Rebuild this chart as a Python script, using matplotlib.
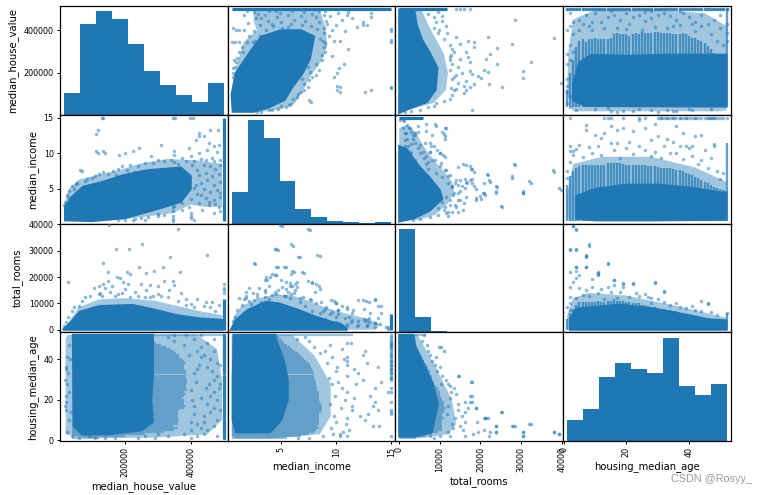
import numpy as np
import matplotlib
matplotlib.use('Agg')
import matplotlib.pyplot as plt

names = ['median_house_value', 'median_income', 'total_rooms', 'housing_median_age']

# data range of each column, used for hist bins and the 5% padded limits
mins = [14999, 0.4999, 2, 1]
maxs = [500001, 15.0001, 39320, 52]

ticks = [[200000, 400000], [5, 10, 15], [0, 10000, 20000, 30000, 40000], [0, 20, 40]]

# histogram counts (diagonal)
value_hist = [877, 3590, 4099, 3785, 2800, 1742, 1192, 799, 524, 1270]
income_hist = [2270, 7436, 6145, 3060, 1050, 480, 190, 120, 30, 100]
rooms_hist = [17700, 2600, 240, 60, 25, 6, 3, 2, 1, 3]
age_hist = [725, 1105, 2210, 2695, 2485, 2350, 3590, 1900, 1590, 1970]

ages = [1, 2, 3, 4, 5, 6, 7, 8, 9, 10, 11, 12, 13, 14, 15, 16, 17, 18, 19, 20, 21, 22, 23, 24, 25, 26,
        27, 28, 29, 30, 31, 32, 33, 34, 35, 36, 37, 38, 39, 40, 41, 42, 43, 44, 45, 46, 47, 48, 49, 50, 51, 52]

# upper end of the dense vertical stripe for each age
age_value_top = [120, 200, 260, 320, 350, 360, 345, 360, 360, 365, 360, 360, 360, 360, 365, 380, 385, 380, 380, 380,
                 375, 380, 385, 380, 390, 385, 385, 385, 390, 390, 385, 385, 385, 385, 380, 380, 380, 385, 380, 375,
                 365, 365, 355, 350, 340, 325, 310, 295, 285, 275, 265, 500]
age_income_top = [5.5, 6.8, 7.5, 8, 8.2, 8.4, 8.3, 8.4, 8.4, 8.4, 8.4, 8.4, 8.4, 8.6, 8.7, 8.7, 8.7, 8.6, 8.5, 8.4,
                  8.4, 8.4, 8.4, 8.4, 8.3, 8.3, 8.2, 8.2, 8.2, 8.1, 8, 8, 8, 7.9, 7.8, 7.7, 7.6, 7.5, 7.3, 7.1,
                  6.9, 6.7, 6.5, 6.3, 6, 5.8, 5.5, 5.3, 5.2, 5, 4.8, 11.5]
age_rooms_top = [4200, 6500, 8000, 9500, 10500, 10500, 10500, 10500, 10500, 10500, 11000, 10500, 10500, 11000, 11000,
                 11500, 11000, 11000, 11000, 10500, 10500, 10000, 10000, 10000, 9500, 9500, 9000, 8500, 8500, 8000,
                 8000, 8000, 7500, 7500, 7000, 7000, 6500, 6000, 6000, 5500, 5500, 5200, 5000, 4800, 4500, 4300,
                 4000, 3800, 3600, 3500, 3400, 6500]

# solid part of each cloud (value in thousands of dollars)
value_income_core = [(18, 0.6), (18, 2.5), (37, 3.8), (73, 5.3), (133, 6), (194, 6.9), (264, 7.6), (370, 8),
                     (400, 6.8), (400, 5), (370, 3.2), (300, 2.2), (200, 0.9), (100, 0.5)]
value_rooms_core = [(12, 0), (37, 3000), (63, 6800), (123, 9000), (224, 9400), (295, 7500), (355, 5600), (426, 4300),
                    (497, 3700), (497, 0)]
value_age_core = [(42, 52), (285, 52), (285, 32), (280, 20), (285, 9), (250, 5), (150, 3), (70, 3), (45, 7)]
income_rooms_core = [(0.44, 0), (0.89, 3670), (1.95, 7470), (3.6, 10600), (4.8, 10000), (6.6, 7470), (8.1, 5000),
                     (9.6, 3000), (10.5, 2000), (11, 0)]
income_age_core = [(0.9, 4), (4.0, 4), (5, 10), (5.6, 20), (5.6, 30), (5.2, 40), (4.5, 50), (4.5, 52), (0.7, 52),
                   (0.6, 30), (0.6, 10)]
rooms_age_core = [(0, 2), (4000, 2), (8000, 4), (9500, 18), (8200, 28), (6000, 38), (4000, 46), (3500, 52), (0, 52)]

# wider mottled part around the solid cloud
value_income_halo = [(17, 1), (17, 3), (30, 5), (60, 6.3), (120, 7), (180, 7.6), (250, 8.6), (330, 9.2), (420, 9),
                     (495, 8.5), (495, 2.5), (440, 2.5), (400, 2.8), (345, 1.6), (260, 1.1), (180, 0.7), (100, 0.5),
                     (40, 0.5)]
value_rooms_halo = [(15, 0), (35, 4000), (60, 8500), (120, 11500), (200, 12000), (290, 11000), (360, 9000),
                    (430, 7000), (497, 5500), (497, 0)]
value_age_halo = [(20, 3), (20, 50), (25, 52), (420, 52), (480, 45), (495, 30), (495, 10), (450, 3), (300, 1.5),
                  (100, 1)]
income_rooms_halo = [(0.5, 0), (0.7, 5000), (1.4, 9000), (3, 12000), (4.5, 13500), (6, 13000), (7.5, 11000),
                     (9, 8500), (11, 6000), (13, 4000), (14, 2000), (13.5, 0)]
income_age_halo = [(0.5, 2), (0.5, 52), (6, 52), (8, 42), (9.5, 28), (9.5, 12), (8.5, 3), (4, 1), (1, 1)]
rooms_age_halo = [(0, 1), (0, 52), (4500, 52), (6500, 45), (9000, 36), (11000, 28), (13000, 20), (14000, 8),
                  (12000, 3), (5000, 1)]

# single points
value_income_pts = [
    (18, 3.2), (16, 2.8), (24, 4.2), (30, 4.7), (27, 3.9), (40, 5.4), (65, 7.7), (50, 5.7), (44, 5.0),
    (55, 5.9), (85, 6.4), (100, 6.5), (80, 6.1), (110, 6.8), (120, 7.1), (135, 7.4), (150, 7.1), (165, 7.5), (180, 7.8),
    (190, 8.2), (172, 6.9), (205, 7.6), (215, 8.4), (240, 8.2), (230, 7.4), (260, 8.7), (285, 8.7), (300, 9.0),
    (320, 8.9), (340, 9.0), (350, 8.8), (280, 9.6), (111, 12.65), (111, 10.35), (135, 10.35), (130, 15), (347, 15),
    (398, 15), (182, 9.8), (199, 10.1), (224, 10.25), (244, 10.7), (310, 11.1), (348, 10.35), (350, 9.8), (426, 12.8),
    (460, 13.2), (482, 13.2), (416, 11.9), (456, 11.4), (440, 12.4), (395, 10.8), (400, 9.6), (425, 10), (450, 10.5),
    (470, 11), (480, 10.2), (430, 9.2), (465, 9.4), (490, 9.0), (485, 11.1), (375, 9.3), (405, 8.3), (420, 7.7),
    (440, 8.4), (460, 8.2), (475, 7.8), (490, 8.4), (425, 6.9), (445, 7.2), (465, 6.8), (485, 7.1), (430, 5.9),
    (450, 6.2), (470, 5.6), (490, 6.0), (410, 5.1), (440, 5.0), (460, 4.6), (480, 4.9), (490, 3.9), (420, 4.3),
    (445, 3.8), (470, 3.5), (400, 3.6), (425, 3.1), (455, 2.7), (485, 2.5), (375, 3.1), (395, 2.5), (435, 2.0),
    (470, 1.6), (350, 2.6), (375, 2.1), (345, 1.2), (345, 0.8), (347, 1.9), (347, 2.4), (300, 1.5), (270, 1.0),
    (250, 0.9), (230, 0.8), (200, 0.6), (180, 0.6), (260, 0.7), (225, 0.6),
    (320, 1.4), (400, 1.2), (401, 0.9), (402, 1.6), (410, 0.6), (300, 1.2), (347, 0.5), (134, 15),
    (406, 15), (352, 15), (118, 13.2), (140, 10.1), (118, 10.1), (425, 12.4), (71, 7.5), (410, 8.9), (445, 9.1),
    (470, 8.9), (385, 8.9), (360, 8.5), (430, 4.2), (415, 5.6), (455, 3.2), (490, 1.9), (490, 4.5), (475, 2.9)]
value_rooms_pts = [
    (27, 18000), (151, 39800), (362, 38100), (252, 32400), (174, 30600), (211, 30600), (337, 27700), (448, 28500),
    (133, 25400), (243, 24000), (317, 24000), (366, 21800), (288, 22300), (148, 22000), (265, 21400), (205, 21800),
    (215, 21000), (175, 20200), (185, 19500), (150, 18500), (135, 17500), (120, 16500), (105, 16000), (140, 16000),
    (160, 16500), (195, 18000), (210, 17500), (250, 17500), (275, 17000), (300, 16500), (320, 18500), (345, 18500),
    (350, 17000), (265, 15000), (230, 14500), (200, 15500), (240, 13000), (300, 13500), (335, 15000), (370, 14000),
    (385, 11800), (420, 11500), (445, 10500), (400, 9800), (360, 11000), (330, 12500), (285, 12800), (260, 12500),
    (95, 13000), (80, 12500), (70, 11000), (60, 9000), (45, 8500), (38, 7000), (28, 5000), (20, 2800), (15, 1500),
    (170, 13000), (130, 12800), (180, 13500), (440, 9000), (460, 8500), (475, 7000), (385, 9500), (410, 8500),
    (155, 14500), (125, 14000), (215, 12500), (275, 12500), (310, 13000), (485, 9500), (465, 10500), (120, 13500),
    (190, 14000)]
value_age_pts = [
    (170, 1), (140, 1), (110, 1), (60, 1), (90, 2), (40, 2), (25, 4), (30, 10), (22, 15), (20, 22), (25, 28), (22, 35),
    (25, 41), (30, 47), (18, 17), (22, 19), (28, 33), (20, 36), (18, 30), (30, 24), (32, 40), (35, 14),
    (480, 2), (440, 3), (420, 2), (400, 1), (380, 3), (330, 2), (290, 1), (260, 2), (240, 1), (300, 3), (450, 5),
    (430, 6), (470, 7), (420, 8), (480, 10), (440, 12), (460, 14), (470, 16), (450, 18), (480, 20), (460, 22),
    (470, 24), (485, 26), (455, 28), (470, 30), (480, 32), (465, 34), (450, 36), (480, 38), (460, 40), (440, 42),
    (470, 44), (430, 46), (450, 48), (410, 50), (380, 47), (350, 49), (330, 51), (420, 44), (430, 41), (425, 37),
    (410, 33), (415, 29), (400, 25), (430, 21), (410, 17), (410, 13), (400, 9), (400, 5), (445, 26), (420, 35),
    (395, 42), (490, 15), (490, 28), (490, 37), (440, 9), (405, 20), (470, 50), (430, 52), (385, 52), (350, 52)]
income_rooms_pts = [
    (4.9, 39800), (7.4, 38100), (5.9, 32400), (4.45, 30600), (4.5, 30500), (6.5, 27700), (8.3, 28500), (2.5, 25400),
    (4.5, 23900), (5.3, 24000), (6, 22400), (6.9, 21800), (4.2, 21200), (4.5, 20800), (4.0, 20000), (3.5, 19000),
    (5.0, 18800), (5.8, 17800), (6.4, 18000), (7.4, 18500), (7.8, 18000), (8.4, 16500), (6.0, 16500), (5.4, 15500),
    (3.0, 16000), (3.5, 15000), (2.4, 14000), (1.8, 13000), (1.6, 11500), (1.4, 9500), (1.0, 7500), (0.8, 5000),
    (0.6, 3500), (2.8, 12500), (4.5, 13500), (5.3, 13000), (6.2, 14000), (7, 12500), (7.6, 11500), (8.2, 10000),
    (9.5, 11200), (10, 10000), (10.5, 9200), (11, 8500), (11.5, 7500), (12, 11300), (12.7, 11000), (13.5, 11500),
    (13.8, 9000), (12.5, 8000), (9, 8000), (9.4, 6000), (10, 5000), (10.8, 4500), (11.3, 3000), (12, 3500),
    (12.5, 4000), (13, 3000), (13.5, 2500), (14, 2000), (14.5, 1200), (11, 1500), (9.8, 1000), (12, 1800), (8.5, 6500),
    (7.8, 7000), (9, 4000), (10, 3000), (13, 4500), (12.8, 1500), (1.2, 12000), (2.1, 11000), (5.8, 12000),
    (6.7, 10500), (7.2, 9000), (8.8, 7000), (10.2, 7500), (3.9, 16500), (4.7, 15000), (5.6, 14500),
    (8.5, 28200), (6.75, 27700), (6.1, 32000), (4.7, 30400), (7.6, 37900), (5.1, 39300), (2.6, 25000),
    (7.1, 21500), (5.9, 21000), (6.2, 22100), (5.4, 23800), (4.7, 23800), (4.4, 20700), (3.6, 20100), (3.7, 18800),
    (8.2, 17500), (7.8, 17700), (8.1, 14500), (8.5, 15600), (6.3, 17400), (6.4, 16200), (6.3, 15000), (5.9, 13700),
    (5.8, 16600), (5.4, 18300), (5.1, 16200), (4.4, 14500), (5.4, 12900), (6.75, 12100), (7.7, 11200), (8.6, 10400),
    (9.1, 8800), (10.2, 7500), (11.4, 6400), (13.5, 11200), (12.4, 11200), (13, 10600), (14.1, 8900), (14.1, 6500),
    (13.1, 6500), (11, 7900), (10, 10000), (9.8, 10800), (13.8, 4600), (12.8, 3800), (13.5, 2560), (13.5, 900),
    (14.7, 100), (14.7, 900), (12.8, 1700), (11.9, 1300), (12.6, 3400), (11, 2100), (10.7, 1300), (10.2, 2600),
    (10.2, 1700), (11.4, 3800), (11.2, 5000), (10.2, 5900), (9.6, 6700), (3.5, 14500), (2.1, 15800), (1.8, 12100),
    (1.8, 14500), (2.3, 9600), (2.5, 11200), (3.5, 12500), (4.2, 13300), (3.9, 11600), (2.8, 13700), (3.2, 10600)]
income_age_pts = [
    (13.9, 7), (13.3, 7), (12.6, 10), (13.8, 15), (13.3, 17), (13.5, 19), (14.7, 24), (13.5, 26), (14.1, 29), (13.8, 36),
    (12.8, 38), (12.4, 42), (12.6, 44), (11.3, 48), (11, 2), (11.2, 5), (10, 9), (11, 11), (11.4, 15), (11.4, 17),
    (11.6, 21), (11, 24), (10.5, 26), (12.4, 30), (11, 32), (11.6, 35), (11, 37), (11, 39), (11, 41), (10.5, 45),
    (11, 48), (10.3, 2), (10.3, 3), (15, 2), (15, 13), (15, 14), (15, 15), (15, 19), (15, 24), (15, 26), (15, 31),
    (15, 33), (15, 35), (15, 37), (15, 39), (15, 42), (15, 46), (15, 47), (15, 48), (9.5, 6), (9.8, 12), (9.4, 18),
    (9.9, 22), (9.6, 28), (9.3, 31), (10, 34), (9.2, 38), (9.6, 41), (8.5, 43), (8, 46), (7.5, 49), (9, 44), (10.4, 16),
    (10.8, 20), (10.2, 29), (10.1, 36), (9.7, 3), (8.8, 2), (7.5, 1), (6.5, 1), (12.2, 12), (11.8, 28), (12, 33),
    (10.7, 40), (7.2, 51), (6.4, 50), (9.4, 47), (13.1, 22), (12.9, 13), (10.9, 8), (10.6, 4)]
rooms_age_pts = [
    (9900, 46), (14450, 32), (17600, 29), (25000, 14), (32000, 8), (27900, 7), (30400, 4), (30400, 2), (38000, 4),
    (39300, 3), (23900, 7), (23900, 4), (21400, 11), (20800, 11), (19000, 16), (17500, 22), (17500, 19), (16200, 19),
    (12100, 28), (39400, 3), (38100, 4), (32400, 8), (30600, 2), (30600, 4), (28400, 7), (27700, 7), (25300, 14),
    (22000, 2), (23900, 4), (22400, 4), (23900, 7), (21800, 11), (21100, 11), (18200, 3), (19500, 4), (20800, 5),
    (19100, 9), (18900, 16), (17900, 19), (17900, 22), (18000, 29), (14800, 32), (10300, 46), (17000, 16), (16300, 14),
    (14400, 15), (16300, 9), (12500, 2), (16300, 2), (15700, 5), (13200, 6), (13800, 11), (14400, 18), (12500, 21),
    (12500, 27), (10300, 28), (9400, 34), (10600, 32), (8100, 39), (7200, 44), (6200, 52), (11000, 44), (9000, 41),
    (8700, 37), (10000, 36), (12800, 24), (15500, 12), (13000, 8), (11800, 13), (12000, 17), (14000, 23), (13600, 26),
    (11500, 30), (6800, 47), (5600, 49), (7500, 42), (12000, 4), (10000, 2), (8500, 1), (7500, 2), (15000, 7)]

# pile-ups at the capped values: continuous run first, loose points after
value_cap_income = [0.5, 15]
value_cap_rooms = [0, 11800]
value_cap_rooms_loose = [14000, 15000, 16000, 17500]
income_cap_rooms = [0, 5800]

pairs = {
    (0, 1): (value_income_core, value_income_halo, value_income_pts),
    (0, 2): (value_rooms_core, value_rooms_halo, value_rooms_pts),
    (0, 3): (value_age_core, value_age_halo, value_age_pts),
    (1, 2): (income_rooms_core, income_rooms_halo, income_rooms_pts),
    (1, 3): (income_age_core, income_age_halo, income_age_pts),
    (2, 3): (rooms_age_core, rooms_age_halo, rooms_age_pts),
}
# first column of value pairs is kept in thousands
scale = [1000, 1, 1, 1]

hists = [value_hist, income_hist, rooms_hist, age_hist]
dot = dict(s=6.5, alpha=0.5, linewidths=0, color='C0', zorder=3)

plt.rcParams['axes.linewidth'] = 0.9
fig, axes = plt.subplots(4, 4, figsize=(7.67, 4.95), dpi=100)
fig.subplots_adjust(left=60 / 767, right=730.5 / 767, top=1 - 6.3 / 495, bottom=1 - 441 / 495, wspace=0, hspace=0)

lims = []
for lo, hi in zip(mins, maxs):
    pad = (hi - lo) * 0.05 / 2
    lims.append((lo - pad, hi + pad))


def draw_pair(ax, i, j, flip):
    core, halo, pts = pairs[(i, j)]
    for poly, style in ((halo, dict(alpha=0.42, lw=0, zorder=1)), (core, dict(lw=1.5, zorder=2))):
        xs = [p[0] * scale[i] for p in poly]
        ys = [p[1] * scale[j] for p in poly]
        if flip:
            xs, ys = ys, xs
        ax.fill(xs, ys, color='C0', **style)
    px = [p[0] * scale[i] for p in pts]
    py = [p[1] * scale[j] for p in pts]
    if flip:
        px, py = py, px
    ax.scatter(px, py, **dot)


def cap_line(ax, where, run, on_x):
    # solid run of overlapping points sitting on a capped value
    if on_x:
        ax.plot([where, where], run, color='C0', lw=2.3, solid_capstyle='butt', zorder=3)
    else:
        ax.plot(run, [where, where], color='C0', lw=2.3, solid_capstyle='butt', zorder=3)


def draw_extras(ax, row, col):
    # stripes for the discrete ages
    if col == 3 and row < 3:
        tops = [[v * 1000 for v in age_value_top], age_income_top, age_rooms_top][row]
        low = [38000, 0.5, 0][row]
        ax.vlines(ages, low, tops, color='C0', lw=1.7, alpha=0.7, zorder=1.5)
    if row == 3 and col < 3:
        tops = [[v * 1000 for v in age_value_top], age_income_top, age_rooms_top][col]
        low = [38000, 0.5, 0][col]
        ax.hlines(ages, low, tops, color='C0', lw=1.6, alpha=0.45, zorder=1.5)
    if (row, col) == (1, 0):
        cap_line(ax, 500001, value_cap_income, True)
    if (row, col) == (0, 1):
        cap_line(ax, 500001, value_cap_income, False)
    if (row, col) == (2, 0):
        cap_line(ax, 500001, value_cap_rooms, True)
        ax.scatter([500001] * len(value_cap_rooms_loose), value_cap_rooms_loose, **dot)
    if (row, col) == (0, 2):
        cap_line(ax, 500001, value_cap_rooms, False)
        ax.scatter(value_cap_rooms_loose, [500001] * len(value_cap_rooms_loose), **dot)
    if (row, col) == (3, 0):
        ax.scatter([500001] * len(ages), ages, **dict(dot, alpha=0.9))
    if (row, col) == (0, 3):
        ax.scatter(ages, [500001] * len(ages), **dict(dot, alpha=0.9))
    if (row, col) == (2, 1):
        cap_line(ax, 15.0001, income_cap_rooms, True)
    if (row, col) == (1, 2):
        cap_line(ax, 15.0001, income_cap_rooms, False)
    if (row, col) == (3, 1):
        ax.scatter([15.0001] * len(ages[29:]), ages[29:], **dot)
    if (row, col) == (1, 3):
        ax.scatter(ages[29:], [15.0001] * len(ages[29:]), **dot)


for row in range(4):
    for col in range(4):
        ax = axes[row][col]
        if row == col:
            edges = np.linspace(mins[row], maxs[row], 11)
            ax.stairs(hists[row], edges, fill=True, color='C0')
            ax.set_xlim(lims[col])
        else:
            if col < row:
                draw_pair(ax, col, row, False)
            else:
                draw_pair(ax, row, col, True)
            draw_extras(ax, row, col)
            ax.set_xlim(lims[col])
            ax.set_ylim(lims[row])

        ax.set_yticks([])
        ax.set_xticks([])
        if col == 0:
            ax.set_ylabel(names[row], fontsize=7.2)
            if row != 0:
                ax.set_yticks(ticks[row])
        if row == 3:
            ax.set_xlabel(names[col], fontsize=7.2, labelpad=3)
            ax.set_xticks(ticks[col])
            ax.tick_params(axis='x', labelrotation=90)
        ax.tick_params(labelsize=5.8, length=2.5, width=0.7, pad=2)

# corner histogram gets its tick labels from the value axis of the row
ax = axes[0][0]
ax.set_ylim(0, max(value_hist) * 1.05)
y0, y1 = ax.get_ylim()
tick_pos = [(t - lims[0][0]) / (lims[0][1] - lims[0][0]) * (y1 - y0) + y0 for t in ticks[0]]
ax.set_yticks(tick_pos)
ax.set_yticklabels([str(t) for t in ticks[0]])

fig.text(752 / 767, 1 - 479 / 495, 'CSDN @Rosyy_', ha='right', va='center', fontsize=7.8,
         family='Liberation Sans', color='#9a9a9a')

fig.savefig('out.png', dpi=100)
